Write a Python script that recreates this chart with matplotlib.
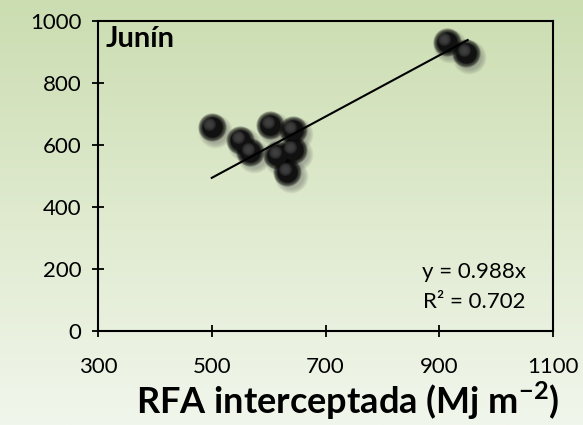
import numpy as np
import matplotlib
matplotlib.use("Agg")
import matplotlib.pyplot as plt
from matplotlib.colors import LinearSegmentedColormap

plt.rcParams['font.family'] = ['Lato', 'DejaVu Sans']
plt.rcParams['mathtext.fontset'] = 'custom'
plt.rcParams['mathtext.rm'] = 'Lato'
plt.rcParams['mathtext.bf'] = 'Lato:bold'

x_vals = [500, 550, 568, 603, 642, 615, 642, 633, 913, 947]
y_vals = [658, 616, 577, 665, 648, 568, 584, 513, 932, 897]
slope = 0.988
x_line = [500, 950]
x_ticks = [300, 500, 700, 900, 1100]
y_ticks = [0, 200, 400, 600, 800, 1000]

W, H = 583, 425
fig = plt.figure(figsize=(W/100, H/100), dpi=100)

bg = fig.add_axes([0, 0, 1, 1], zorder=-10)
grad = np.linspace(0, 1, 256).reshape(-1, 1)
cmap = LinearSegmentedColormap.from_list('g', ['#cbddb1', '#dfeace', '#f1f6ec'])
bg.imshow(grad, aspect='auto', cmap=cmap, extent=[0, 1, 0, 1], origin='upper')
bg.axis('off')

ax = fig.add_axes([98/W, 1-331/H, (553-98)/W, (331-21)/H])
ax.patch.set_alpha(0)
ax.set_xlim(300, 1100)
ax.set_ylim(0, 1000)
ax.set_xticks(x_ticks)
ax.set_yticks(y_ticks)
for s in ax.spines.values():
    s.set_linewidth(1.5)
    s.set_color('black')
ax.tick_params(direction='inout', length=8, width=1.3, labelsize=16, colors='black')
ax.tick_params(axis='x', pad=15)
ax.tick_params(axis='y', pad=8)

xv = np.array(x_vals); yv = np.array(y_vals)
for s in np.linspace(600, 300, 8):
    ax.scatter(xv + 6, yv - 14, s=s, color='#5a5a5a', alpha=0.06, lw=0, zorder=2)
for s in np.linspace(420, 200, 8):
    ax.scatter(xv, yv, s=s, color='#000000', alpha=0.18, lw=0, zorder=3)
ax.scatter(xv, yv, s=210, color='#111111', lw=0, zorder=4)
for s in np.linspace(90, 10, 5):
    ax.scatter(xv - 4, yv + 10, s=s, color='#555555', alpha=0.22, lw=0, zorder=5)

ax.plot(x_line, [slope * v for v in x_line], color='black', lw=1.5, zorder=6)

ax.text(0.016, 0.985, 'Junín', transform=ax.transAxes, fontsize=21, fontweight='bold',
        ha='left', va='top')
ax.text(0.94, 0.19, 'y = 0.988x', transform=ax.transAxes, fontsize=16, ha='right', va='center')
ax.text(0.94, 0.095, 'R² = 0.702', transform=ax.transAxes, fontsize=16, ha='right', va='center')

fig.text(348/W, 1-401/H, 'RFA interceptada (Mj m$^{\\mathbf{-2}}$)', fontsize=26, fontweight='bold',
         ha='center', va='center')

fig.savefig('out.png', dpi=100)
